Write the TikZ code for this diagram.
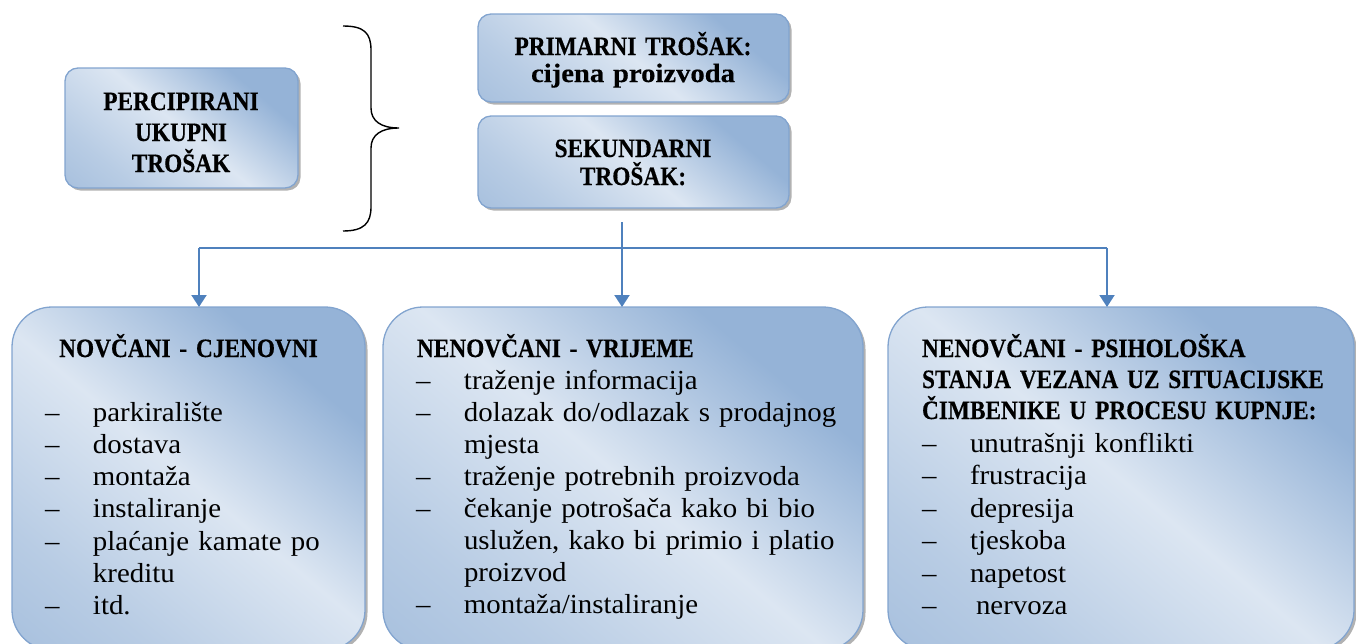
\documentclass[tikz,border=0pt]{standalone}
\usepackage{fontspec}
\setmainfont{Liberation Serif}[FakeStretch=1.05, BoldFeatures={FakeStretch=0.88, FakeBold=0.4}]
\newfontfamily\widebold{Liberation Serif}[BoldFeatures={FakeStretch=1.08, FakeBold=0.4}]
\usetikzlibrary{arrows.meta,shadows}

\definecolor{bdark}{RGB}{149,179,215}
\definecolor{bmid}{RGB}{184,204,228}
\definecolor{blight}{RGB}{220,230,242}
\definecolor{bedge}{RGB}{130,164,207}
\definecolor{linkblue}{RGB}{79,129,189}

% light band along the falling diagonal, darker towards top right and bottom left
\pgfdeclareverticalshading{panelgrad}{100bp}{%
  color(0bp)=(bdark); color(28bp)=(bmid); color(50bp)=(blight);
  color(72bp)=(bdark); color(100bp)=(bdark)}

\newcommand\bul{\makebox[48pt][l]{–}}
\newcommand\cont{\hspace*{48pt}}

\begin{document}
\begin{tikzpicture}[x=1pt,y=-1pt,
  panel/.style={draw=bedge, line width=1.3pt, shading=panelgrad, shading angle=-40,
    inner sep=0pt, outer sep=0pt,
    drop shadow={shadow xshift=2.5pt, shadow yshift=-2.5pt, fill=black!60, opacity=0.5}},
  smallpanel/.style={panel, rounded corners=13pt},
  bigpanel/.style={panel, rounded corners=40pt},
  head/.style={inner sep=0pt, outer sep=0pt, anchor=base, align=center,
    text width=340pt, font=\fontsize{26.5}{31}\selectfont\bfseries},
  listtext/.style={inner sep=0pt, outer sep=0pt, anchor=base west, align=left,
    text width=440pt, font=\fontsize{27.5}{32.3}\selectfont},
  titletext/.style={inner sep=0pt, outer sep=0pt, anchor=base west, align=left,
    text width=440pt, font=\fontsize{26.5}{31}\selectfont\bfseries},
  link/.style={draw=linkblue, line width=2pt},
  arrowlink/.style={link, -{Triangle[width=15pt,length=12pt]}},
  brace/.style={draw=black, line width=1.4pt}]

\useasboundingbox (0,0) rectangle (1356,643);
\clip (0,0) rectangle (1356,643);

% upper boxes
\node[smallpanel, minimum width=233pt, minimum height=120pt] (ukupni) at (181.5,128) {};
\node[head] (ukupnitxt) at (181,110) {PERCIPIRANI\\UKUPNI\\TROŠAK};

\node[smallpanel, minimum width=311pt, minimum height=88pt] (primarni) at (633.5,58) {};
\node[head, font=\fontsize{26.5}{27}\selectfont\bfseries] (primtxt) at (633,55)
  {PRIMARNI TROŠAK:\\{\widebold\bfseries cijena proizvoda}};

\node[smallpanel, minimum width=311pt, minimum height=92pt] (sekundarni) at (633.5,162) {};
\node[head, font=\fontsize{26.5}{28}\selectfont\bfseries] (sektxt) at (633,157)
  {SEKUNDARNI\\TROŠAK:};

% curly brace grouping the two kinds of cost
\draw[brace] (343,26) .. controls (364,26) and (371,33) .. (371,50)
  -- (371,108) .. controls (371,121) and (381,128) .. (399,128)
  .. controls (381,128) and (371,135) .. (371,148)
  -- (371,207) .. controls (371,223) and (364,231) .. (343,231);

% lower boxes
\node[bigpanel, minimum width=353pt, minimum height=343pt] (novcani) at (188.5,478.5) {};
\node[bigpanel, minimum width=480pt, minimum height=343pt] (vrijeme) at (623,478.5) {};
\node[bigpanel, minimum width=466pt, minimum height=343pt] (psiho) at (1121,478.5) {};

% connectors
\coordinate (drop) at (622,222);
\coordinate (hub) at (622,248);
\coordinate (busL) at (199,248);
\coordinate (busR) at (1107,248);
\draw[link] (drop) -- (hub);
\draw[link] (busL) -- (busR);
\draw[arrowlink] (busL) -- (busL |- novcani.north);
\draw[arrowlink] (hub) -- (hub |- vrijeme.north);
\draw[arrowlink] (busR) -- (busR |- psiho.north);

% texts of the lower boxes
\node[head] (novcanititle) at (188.5,357) {NOVČANI - CJENOVNI};
\node[listtext] (novcanilist) at (45,421) {%
  \bul parkiralište\\
  \bul dostava\\
  \bul montaža\\
  \bul instaliranje\\
  \bul plaćanje kamate po\\
  \cont kreditu\\
  \bul itd.};

\node[titletext] (vrijemetitle) at (417,357) {NENOVČANI - VRIJEME};
\node[listtext, font=\fontsize{27.5}{32}\selectfont] (vrijemelist) at (416,389) {%
  \bul traženje informacija\\
  \bul dolazak do/odlazak s prodajnog\\
  \cont mjesta\\
  \bul traženje potrebnih proizvoda\\
  \bul čekanje potrošača kako bi bio\\
  \cont uslužen, kako bi primio i platio\\
  \cont proizvod\\
  \bul montaža/instaliranje};

\node[titletext] (psihotitle) at (922,357) {NENOVČANI - PSIHOLOŠKA\\
  STANJA VEZANA UZ SITUACIJSKE\\ČIMBENIKE U PROCESU KUPNJE:};
\node[listtext, font=\fontsize{27.5}{32.5}\selectfont] (psiholist) at (922,452) {%
  \bul unutrašnji konflikti\\
  \bul frustracija\\
  \bul depresija\\
  \bul tjeskoba\\
  \bul napetost\\
  \bul\hspace{6pt}nervoza};
\end{tikzpicture}
\end{document}
